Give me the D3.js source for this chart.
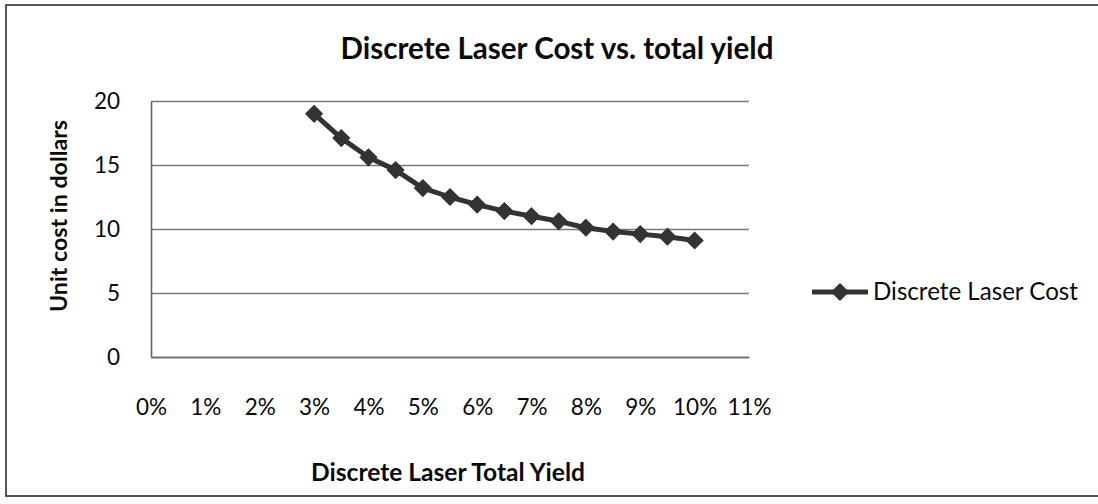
<!DOCTYPE html>
<html>
<head>
<meta charset="utf-8">
<script src="https://cdn.jsdelivr.net/npm/d3@7/dist/d3.min.js"></script>
<style>
  html, body { margin: 0; padding: 0; background: #fff; }
  svg { display: block; }
  text { font-family: Lato, "Noto Sans", sans-serif; fill: #0a0a0a; }
</style>
</head>
<body>
<svg id="chart" width="1098" height="504"></svg>
<script>
// Unit cost for each total-yield level
const yieldLevels = [0.03, 0.035, 0.04, 0.045, 0.05, 0.055, 0.06, 0.065, 0.07, 0.075, 0.08, 0.085, 0.09, 0.095, 0.10];
const unitCost    = [19.0, 17.1, 15.6, 14.6, 13.2, 12.5, 11.9, 11.4, 11.0, 10.6, 10.1, 9.8, 9.6, 9.4, 9.1];

const xTickValues = [0, 0.01, 0.02, 0.03, 0.04, 0.05, 0.06, 0.07, 0.08, 0.09, 0.10, 0.11];
const xTickLabels = ["0%", "1%", "2%", "3%", "4%", "5%", "6%", "7%", "8%", "9%", "10%", "11%"];
const yTickValues = [0, 5, 10, 15, 20];

const titleText  = "Discrete Laser Cost vs. total yield";
const xTitleText = "Discrete Laser Total Yield";
const yTitleText = "Unit cost in dollars";
const seriesName = "Discrete Laser Cost";

const svg = d3.select("#chart");
const plot = { left: 151, right: 749, top: 101, bottom: 357 };

const x = d3.scaleLinear().domain([0, 0.11]).range([plot.left, plot.right]);
const y = d3.scaleLinear().domain([0, 20]).range([plot.bottom, plot.top]);

// shrink or grow a text's font so it spans the given width
function fitWidth(sel, width) {
  const node = sel.node();
  const size = parseFloat(sel.attr("font-size"));
  const w = node.getComputedTextLength();
  sel.attr("font-size", (size * width / w).toFixed(2));
  return sel;
}

// outer frame
svg.append("rect")
  .attr("x", 6).attr("y", 5).attr("width", 1100).attr("height", 491)
  .attr("fill", "none").attr("stroke", "#555").attr("stroke-width", 2);

// horizontal gridlines
svg.append("g")
  .attr("transform", `translate(${plot.left},0)`)
  .call(d3.axisLeft(y).tickValues(yTickValues).tickSize(-(plot.right - plot.left)).tickFormat(""))
  .call(g => g.select(".domain").remove())
  .call(g => g.selectAll(".tick line").attr("stroke", "#777").attr("stroke-width", 1.6));

// y axis with labels
svg.append("g")
  .attr("transform", `translate(${plot.left},0)`)
  .call(d3.axisLeft(y).tickValues(yTickValues).tickSize(0).tickPadding(31))
  .call(g => g.select(".domain").attr("stroke", "#666").attr("stroke-width", 1.6))
  .call(g => g.selectAll(".tick text")
    .attr("font-size", 22.5).attr("font-family", "Lato, sans-serif").attr("fill", "#0a0a0a"));

// x axis with percentage labels
svg.append("g")
  .attr("transform", `translate(0,${plot.bottom})`)
  .call(d3.axisBottom(x).tickValues(xTickValues).tickSize(0).tickPadding(42)
    .tickFormat((d, i) => xTickLabels[i]))
  .call(g => g.select(".domain").attr("stroke", "#666").attr("stroke-width", 1.6))
  .call(g => g.selectAll(".tick text")
    .attr("font-size", 22.5).attr("font-family", "Lato, sans-serif").attr("fill", "#0a0a0a"));

// title
fitWidth(svg.append("text")
  .attr("x", 557).attr("y", 59)
  .attr("text-anchor", "middle")
  .attr("font-size", 25).attr("font-weight", "bold")
  .text(titleText), 433);

// axis titles
fitWidth(svg.append("text")
  .attr("x", 448).attr("y", 481)
  .attr("text-anchor", "middle")
  .attr("font-size", 20).attr("font-weight", "bold")
  .text(xTitleText), 274);

fitWidth(svg.append("text")
  .attr("transform", "translate(67,216) rotate(-90)")
  .attr("text-anchor", "middle")
  .attr("font-size", 20).attr("font-weight", "bold")
  .text(yTitleText), 192);

// series line
const points = yieldLevels.map((v, i) => [v, unitCost[i]]);
svg.append("path")
  .datum(points)
  .attr("fill", "none")
  .attr("stroke", "#333")
  .attr("stroke-width", 5)
  .attr("stroke-linejoin", "round")
  .attr("d", d3.line().x(d => x(d[0])).y(d => y(d[1])));

// diamond markers
const diamond = d3.symbol().type(d3.symbolDiamond2).size(165);
svg.append("g")
  .selectAll("path")
  .data(points)
  .join("path")
  .attr("transform", d => `translate(${x(d[0])},${y(d[1])})`)
  .attr("d", diamond)
  .attr("fill", "#333")
  .attr("stroke", "#333")
  .attr("stroke-width", 1.5);

// legend
const legend = svg.append("g").attr("transform", "translate(812,292)");
legend.append("line")
  .attr("x1", 0).attr("x2", 56).attr("y1", 0).attr("y2", 0)
  .attr("stroke", "#333").attr("stroke-width", 5);
legend.append("path")
  .attr("transform", "translate(28,0)")
  .attr("d", diamond)
  .attr("fill", "#333").attr("stroke", "#333").attr("stroke-width", 1.5);
fitWidth(legend.append("text")
  .attr("x", 61).attr("y", 8)
  .attr("font-size", 21)
  .text(seriesName), 205);
</script>
</body>
</html>
